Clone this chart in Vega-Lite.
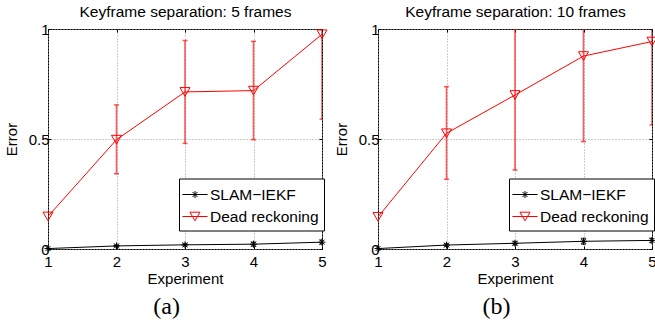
{
  "$schema": "https://vega.github.io/schema/vega-lite/v6.json",
  "background": "white",
  "padding": {"left": 3, "top": 4, "right": 0, "bottom": 0},
  "spacing": 56,
  "bounds": "flush",
  "datasets": {
    "err": [
      {"panel": "a", "series": "SLAM−IEKF", "x": 1, "y": 0.002, "lo": null, "hi": null},
      {"panel": "a", "series": "SLAM−IEKF", "x": 2, "y": 0.014, "lo": 0.010, "hi": 0.018},
      {"panel": "a", "series": "SLAM−IEKF", "x": 3, "y": 0.019, "lo": 0.014, "hi": 0.024},
      {"panel": "a", "series": "SLAM−IEKF", "x": 4, "y": 0.022, "lo": 0.013, "hi": 0.031},
      {"panel": "a", "series": "SLAM−IEKF", "x": 5, "y": 0.031, "lo": 0.022, "hi": 0.041},
      {"panel": "a", "series": "Dead reckoning", "x": 1, "y": 0.148, "lo": null, "hi": null},
      {"panel": "a", "series": "Dead reckoning", "x": 2, "y": 0.497, "lo": 0.342, "hi": 0.655},
      {"panel": "a", "series": "Dead reckoning", "x": 3, "y": 0.714, "lo": 0.48, "hi": 0.948},
      {"panel": "a", "series": "Dead reckoning", "x": 4, "y": 0.72, "lo": 0.497, "hi": 0.944},
      {"panel": "a", "series": "Dead reckoning", "x": 5, "y": 0.976, "lo": 0.59, "hi": 1.36},
      {"panel": "b", "series": "SLAM−IEKF", "x": 1, "y": 0.002, "lo": null, "hi": null},
      {"panel": "b", "series": "SLAM−IEKF", "x": 2, "y": 0.018, "lo": 0.012, "hi": 0.024},
      {"panel": "b", "series": "SLAM−IEKF", "x": 3, "y": 0.026, "lo": 0.018, "hi": 0.034},
      {"panel": "b", "series": "SLAM−IEKF", "x": 4, "y": 0.035, "lo": 0.022, "hi": 0.048},
      {"panel": "b", "series": "SLAM−IEKF", "x": 5, "y": 0.039, "lo": 0.029, "hi": 0.049},
      {"panel": "b", "series": "Dead reckoning", "x": 1, "y": 0.146, "lo": null, "hi": null},
      {"panel": "b", "series": "Dead reckoning", "x": 2, "y": 0.526, "lo": 0.317, "hi": 0.738},
      {"panel": "b", "series": "Dead reckoning", "x": 3, "y": 0.70, "lo": 0.359, "hi": 1.04},
      {"panel": "b", "series": "Dead reckoning", "x": 4, "y": 0.877, "lo": 0.488, "hi": 1.27},
      {"panel": "b", "series": "Dead reckoning", "x": 5, "y": 0.943, "lo": 0.564, "hi": 1.32}
    ]
  },
  "config": {
    "view": {"stroke": "black", "strokeWidth": 1},
    "font": "Liberation Sans",
    "axis": {
      "labelFont": "Liberation Sans",
      "labelFontSize": 15,
      "labelColor": "black",
      "labelFlush": false,
      "labelOverlap": false,
      "titleFont": "Liberation Sans",
      "titleFontSize": 15,
      "titleFontWeight": "normal",
      "titleColor": "black",
      "tickColor": "black",
      "tickWidth": 1,
      "domain": false,
      "gridColor": "#9a9a9a",
      "gridDash": [1, 2],
      "gridWidth": 1,
      "gridOpacity": 1
    }
  },
  "resolve": {
    "scale": {"color": "independent"},
    "legend": {"color": "independent"}
  },
  "hconcat": [
    {
      "width": 274,
      "height": 220,
      "data": {"name": "err"},
      "transform": [{"filter": "datum.panel === 'a'"}],
      "title": {"text": "(a)", "orient": "bottom", "font": "Liberation Serif", "fontSize": 24, "fontWeight": "normal", "color": "black", "anchor": "middle", "frame": "bounds", "offset": 9},
      "resolve": {"axis": {"x": "independent", "y": "independent"}},
      "layer": [
        {
          "mark": {"type": "line", "strokeWidth": 1, "clip": true},
          "encoding": {
            "x": {"field": "x", "type": "quantitative", "scale": {"domain": [1, 5], "nice": false, "zero": false},
                  "axis": {"orient": "bottom", "values": [1, 2, 3, 4, 5], "format": "d", "title": "Experiment", "grid": true, "tickSize": -3, "labelPadding": 8, "titlePadding": 2}},
            "y": {"field": "y", "type": "quantitative", "scale": {"domain": [0, 1], "nice": false},
                  "axis": {"orient": "left", "values": [0, 0.5, 1], "labelExpr": "'' + datum.value", "title": "Error", "grid": true, "tickSize": -3, "labelPadding": 2, "titlePadding": 9}},
            "color": {"field": "series", "type": "nominal",
                      "scale": {"domain": ["SLAM−IEKF", "Dead reckoning"], "range": ["black", "#ff0000"]},
                      "legend": {"orient": "none", "legendX": 131, "legendY": 149.5, "title": null,
                                 "strokeColor": "black", "fillColor": "white", "padding": 5, "cornerRadius": 0,
                                 "symbolSize": 441, "symbolStrokeWidth": 1, "symbolFillColor": "transparent",
                                 "labelFont": "Liberation Sans", "labelFontSize": 15.5, "labelColor": "black", "labelOffset": 4, "rowPadding": 2,
                                 "encode": {"symbols": {"update": {
                                   "shape": {"signal": "datum.value === 'SLAM−IEKF' ? 'M-1.2,0L1.2,0M0,-0.33L0,0.33M-0.24,-0.24L0.24,0.24M-0.24,0.24L0.24,-0.24' : 'M-1.2,0L1.2,0M-0.48,-0.41L0.48,-0.41L0,0.41Z'"},
                                   "fill": {"value": "transparent"}}}}}}
          }
        },
        {
          "transform": [{"filter": "datum.lo != null"}],
          "mark": {"type": "rule", "strokeWidth": 1.6, "opacity": 0.65, "clip": true},
          "encoding": {
            "x": {"field": "x", "type": "quantitative", "axis": null},
            "y": {"field": "lo", "type": "quantitative", "axis": null},
            "y2": {"field": "hi"},
            "color": {"condition": {"test": "datum.series === 'Dead reckoning'", "value": "#ff0000"}, "value": "black"}
          }
        },
        {
          "transform": [{"filter": "datum.lo != null"}],
          "mark": {"type": "tick", "orient": "horizontal", "size": 5, "thickness": 1.5, "opacity": 0.65, "clip": true},
          "encoding": {
            "x": {"field": "x", "type": "quantitative", "axis": null},
            "y": {"field": "lo", "type": "quantitative", "axis": null},
            "color": {"condition": {"test": "datum.series === 'Dead reckoning'", "value": "#ff0000"}, "value": "black"}
          }
        },
        {
          "transform": [{"filter": "datum.lo != null"}],
          "mark": {"type": "tick", "orient": "horizontal", "size": 5, "thickness": 1.5, "opacity": 0.65, "clip": true},
          "encoding": {
            "x": {"field": "x", "type": "quantitative", "axis": null},
            "y": {"field": "hi", "type": "quantitative", "axis": null},
            "color": {"condition": {"test": "datum.series === 'Dead reckoning'", "value": "#ff0000"}, "value": "black"}
          }
        },
        {
          "transform": [{"filter": "datum.series === 'SLAM−IEKF'"}],
          "mark": {"type": "point", "filled": false, "strokeWidth": 1, "size": 100, "opacity": 1, "color": "black",
                   "shape": "M-0.7,0L0.7,0M0,-0.7L0,0.7M-0.5,-0.5L0.5,0.5M-0.5,0.5L0.5,-0.5"},
          "encoding": {
            "x": {"field": "x", "type": "quantitative", "axis": null},
            "y": {"field": "y", "type": "quantitative", "axis": null}
          }
        },
        {
          "transform": [{"filter": "datum.series === 'Dead reckoning'"}],
          "mark": {"type": "point", "filled": false, "strokeWidth": 1, "size": 100, "opacity": 1, "color": "#ff0000", "shape": "triangle-down"},
          "encoding": {
            "x": {"field": "x", "type": "quantitative", "axis": null},
            "y": {"field": "y", "type": "quantitative", "axis": null}
          }
        },
        {
          "mark": {"type": "point", "opacity": 0},
          "encoding": {
            "x": {"field": "x", "type": "quantitative",
                  "axis": {"orient": "top", "values": [1, 2, 3, 4, 5], "labels": false, "tickSize": -3, "grid": false, "title": "Keyframe separation: 5 frames", "titleFontSize": 15.5, "titlePadding": 9}},
            "y": {"field": "y", "type": "quantitative",
                  "axis": {"orient": "right", "values": [0, 0.5, 1], "labels": false, "tickSize": -3, "grid": false, "title": null}}
          }
        }
      ]
    },
    {
      "width": 274,
      "height": 220,
      "data": {"name": "err"},
      "transform": [{"filter": "datum.panel === 'b'"}],
      "title": {"text": "(b)", "orient": "bottom", "font": "Liberation Serif", "fontSize": 24, "fontWeight": "normal", "color": "black", "anchor": "middle", "frame": "bounds", "offset": 9},
      "resolve": {"axis": {"x": "independent", "y": "independent"}},
      "layer": [
        {
          "mark": {"type": "line", "strokeWidth": 1, "clip": true},
          "encoding": {
            "x": {"field": "x", "type": "quantitative", "scale": {"domain": [1, 5], "nice": false, "zero": false},
                  "axis": {"orient": "bottom", "values": [1, 2, 3, 4, 5], "format": "d", "title": "Experiment", "grid": true, "tickSize": -3, "labelPadding": 8, "titlePadding": 2}},
            "y": {"field": "y", "type": "quantitative", "scale": {"domain": [0, 1], "nice": false},
                  "axis": {"orient": "left", "values": [0, 0.5, 1], "labelExpr": "'' + datum.value", "title": "Error", "grid": true, "tickSize": -3, "labelPadding": 2, "titlePadding": 9}},
            "color": {"field": "series", "type": "nominal",
                      "scale": {"domain": ["SLAM−IEKF", "Dead reckoning"], "range": ["black", "#ff0000"]},
                      "legend": {"orient": "none", "legendX": 131, "legendY": 149.5, "title": null,
                                 "strokeColor": "black", "fillColor": "white", "padding": 5, "cornerRadius": 0,
                                 "symbolSize": 441, "symbolStrokeWidth": 1, "symbolFillColor": "transparent",
                                 "labelFont": "Liberation Sans", "labelFontSize": 15.5, "labelColor": "black", "labelOffset": 4, "rowPadding": 2,
                                 "encode": {"symbols": {"update": {
                                   "shape": {"signal": "datum.value === 'SLAM−IEKF' ? 'M-1.2,0L1.2,0M0,-0.33L0,0.33M-0.24,-0.24L0.24,0.24M-0.24,0.24L0.24,-0.24' : 'M-1.2,0L1.2,0M-0.48,-0.41L0.48,-0.41L0,0.41Z'"},
                                   "fill": {"value": "transparent"}}}}}}
          }
        },
        {
          "transform": [{"filter": "datum.lo != null"}],
          "mark": {"type": "rule", "strokeWidth": 1.6, "opacity": 0.65, "clip": true},
          "encoding": {
            "x": {"field": "x", "type": "quantitative", "axis": null},
            "y": {"field": "lo", "type": "quantitative", "axis": null},
            "y2": {"field": "hi"},
            "color": {"condition": {"test": "datum.series === 'Dead reckoning'", "value": "#ff0000"}, "value": "black"}
          }
        },
        {
          "transform": [{"filter": "datum.lo != null"}],
          "mark": {"type": "tick", "orient": "horizontal", "size": 5, "thickness": 1.5, "opacity": 0.65, "clip": true},
          "encoding": {
            "x": {"field": "x", "type": "quantitative", "axis": null},
            "y": {"field": "lo", "type": "quantitative", "axis": null},
            "color": {"condition": {"test": "datum.series === 'Dead reckoning'", "value": "#ff0000"}, "value": "black"}
          }
        },
        {
          "transform": [{"filter": "datum.lo != null"}],
          "mark": {"type": "tick", "orient": "horizontal", "size": 5, "thickness": 1.5, "opacity": 0.65, "clip": true},
          "encoding": {
            "x": {"field": "x", "type": "quantitative", "axis": null},
            "y": {"field": "hi", "type": "quantitative", "axis": null},
            "color": {"condition": {"test": "datum.series === 'Dead reckoning'", "value": "#ff0000"}, "value": "black"}
          }
        },
        {
          "transform": [{"filter": "datum.series === 'SLAM−IEKF'"}],
          "mark": {"type": "point", "filled": false, "strokeWidth": 1, "size": 100, "opacity": 1, "color": "black",
                   "shape": "M-0.7,0L0.7,0M0,-0.7L0,0.7M-0.5,-0.5L0.5,0.5M-0.5,0.5L0.5,-0.5"},
          "encoding": {
            "x": {"field": "x", "type": "quantitative", "axis": null},
            "y": {"field": "y", "type": "quantitative", "axis": null}
          }
        },
        {
          "transform": [{"filter": "datum.series === 'Dead reckoning'"}],
          "mark": {"type": "point", "filled": false, "strokeWidth": 1, "size": 100, "opacity": 1, "color": "#ff0000", "shape": "triangle-down"},
          "encoding": {
            "x": {"field": "x", "type": "quantitative", "axis": null},
            "y": {"field": "y", "type": "quantitative", "axis": null}
          }
        },
        {
          "mark": {"type": "point", "opacity": 0},
          "encoding": {
            "x": {"field": "x", "type": "quantitative",
                  "axis": {"orient": "top", "values": [1, 2, 3, 4, 5], "labels": false, "tickSize": -3, "grid": false, "title": "Keyframe separation: 10 frames", "titleFontSize": 15.5, "titlePadding": 9}},
            "y": {"field": "y", "type": "quantitative",
                  "axis": {"orient": "right", "values": [0, 0.5, 1], "labels": false, "tickSize": -3, "grid": false, "title": null}}
          }
        }
      ]
    }
  ]
}
